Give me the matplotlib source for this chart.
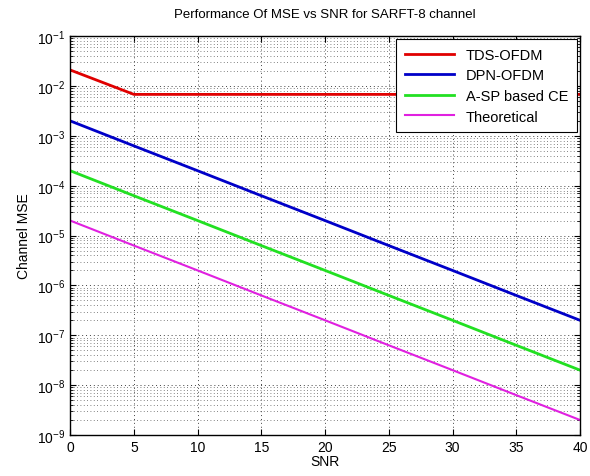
import matplotlib
matplotlib.use('Agg')
import matplotlib.pyplot as plt
from matplotlib.ticker import FixedLocator, LogLocator, NullFormatter

plt.rcParams['font.family'] = ['Liberation Sans', 'DejaVu Sans']

# SNR points (dB) and channel MSE
snr = [0, 5, 10, 15, 20, 25, 30, 35, 40]
tds_ofdm = [2.1e-2, 6.8e-3, 6.8e-3, 6.8e-3, 6.8e-3, 6.8e-3, 6.8e-3, 6.8e-3, 6.8e-3]
dpn_ofdm = [2e-3, 6.3e-4, 2e-4, 6.3e-5, 2e-5, 6.3e-6, 2e-6, 6.3e-7, 2e-7]
asp_ce = [2e-4, 6.3e-5, 2e-5, 6.3e-6, 2e-6, 6.3e-7, 2e-7, 6.3e-8, 2e-8]
theory = [2e-5, 6.3e-6, 2e-6, 6.3e-7, 2e-7, 6.3e-8, 2e-8, 6.3e-9, 2e-9]

labels = ['TDS-OFDM', 'DPN-OFDM', 'A-SP based CE', 'Theoretical']
colors = ['#e00000', '#0000c8', '#22e022', '#e020e0']
yticks = [1e-9, 1e-8, 1e-7, 1e-6, 1e-5, 1e-4, 1e-3, 1e-2, 1e-1]

fig = plt.figure(figsize=(5.9, 4.77), dpi=100)
ax = fig.add_axes([0.119, 0.086, 0.864, 0.836])

ax.semilogy(snr, tds_ofdm, color=colors[0], lw=2, label=labels[0])
ax.semilogy(snr, dpn_ofdm, color=colors[1], lw=2, label=labels[1])
ax.semilogy(snr, asp_ce, color=colors[2], lw=2, label=labels[2])
ax.semilogy(snr, theory, color=colors[3], lw=1.5, label=labels[3])

ax.set_xlim(0, 40)
ax.set_ylim(1e-9, 1e-1)
ax.set_xticks(range(0, 41, 5))
ax.yaxis.set_major_locator(FixedLocator(yticks))
ax.yaxis.set_minor_locator(LogLocator(base=10, subs=range(2, 10), numticks=20))
ax.yaxis.set_minor_formatter(NullFormatter())
ax.tick_params(which='both', direction='in', top=True, right=True, labelsize=10)
ax.tick_params(which='major', length=4)
ax.tick_params(which='minor', length=2)

# matlab-like sparse dotted grid
ax.grid(True, which='major', color='0.25', lw=0.7, dashes=(1, 3))
ax.grid(True, which='minor', axis='y', color='0.35', lw=0.6, dashes=(1, 3))

ax.set_title('Performance Of MSE vs SNR for SARFT-8 channel', fontsize=9.5, pad=14)
ax.set_xlabel('SNR', fontsize=10, labelpad=0)
ax.set_ylabel('Channel MSE', fontsize=10)

leg = ax.legend(loc='upper right', fontsize=10.5, fancybox=False, framealpha=1,
                edgecolor='k', borderaxespad=0.2, handlelength=3.4,
                labelspacing=0.45, borderpad=0.6)
leg.get_frame().set_linewidth(0.8)

for s in ax.spines.values():
    s.set_linewidth(1)

fig.savefig('out.png', dpi=100)
